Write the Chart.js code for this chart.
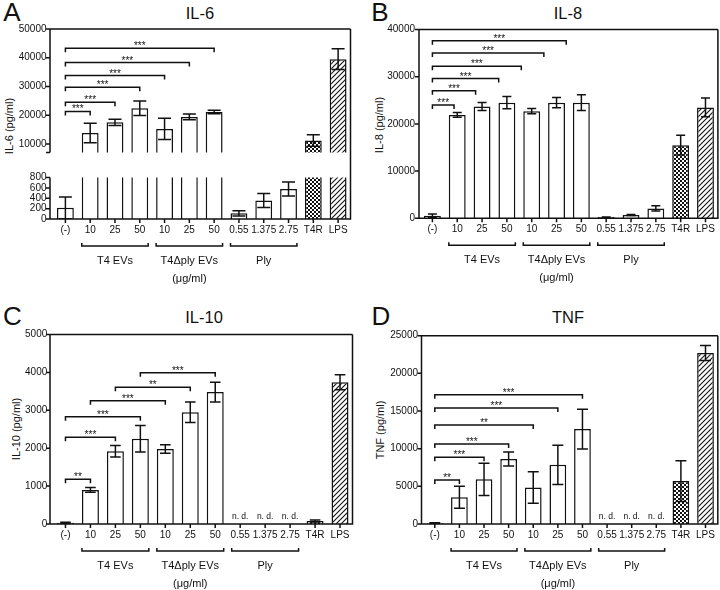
<!DOCTYPE html>
<html>
<head>
<meta charset="utf-8">
<script src="https://cdn.jsdelivr.net/npm/chart.js@4.4.1/dist/chart.umd.min.js"></script>
<style>
html, body { margin: 0; padding: 0; background: #fff; }
#fig { position: relative; width: 720px; height: 590px; overflow: hidden; font-family: "Liberation Sans", Arial, sans-serif; color: #111; }
#fig canvas { position: absolute; }
.lbl { position: absolute; line-height: 1; white-space: nowrap; transform: translate(-50%, -50%); }
.letter { font-size: 26px; }
.title { font-size: 16.5px; }
.ytitle { font-size: 11px; transform: translate(-50%, -50%) rotate(-90deg); }
</style>
</head>
<body>
<div id="fig">
  <div class="lbl letter" style="left:12px;top:12px">A</div>
  <div class="lbl letter" style="left:380px;top:12px">B</div>
  <div class="lbl letter" style="left:12.5px;top:316px">C</div>
  <div class="lbl letter" style="left:381px;top:316px">D</div>
  <div class="lbl title" style="left:200px;top:12.5px">IL-6</div>
  <div class="lbl title" style="left:568px;top:12.5px">IL-8</div>
  <div class="lbl title" style="left:204px;top:316.5px">IL-10</div>
  <div class="lbl title" style="left:568px;top:316.5px">TNF</div>
  <div class="lbl ytitle" style="left:8.5px;top:126px">IL-6 (pg/ml)</div>
  <div class="lbl ytitle" style="left:379px;top:125px">IL-8 (pg/ml)</div>
  <div class="lbl ytitle" style="left:15.5px;top:429px">IL-10 (pg/ml)</div>
  <div class="lbl ytitle" style="left:380px;top:430px">TNF (pg/ml)</div>
</div>
<script>
const categories = ['(-)', '10', '25', '50', '10', '25', '50', '0.55', '1.375', '2.75', 'T4R', 'LPS'];
const groups = [['T4 EVs', 1, 3], ['T4\u0394ply EVs', 4, 6], ['Ply', 7, 9]];
const unitLabel = '(\u03bcg/ml)';

// IL-6 (broken axis)
const il6Mean = [215, 13800, 17500, 22400, 15200, 19400, 21100, 110, 355, 580, 11200, 39500];
const il6Err = [210, 3400, 1100, 2500, 3700, 1000, 600, 50, 135, 135, 2000, 3600];
const il6Sig = [[0, 1, 21300, '***'], [0, 2, 24500, '***'], [0, 3, 29700, '***'],
                [0, 4, 33800, '***'], [0, 5, 38300, '***'], [0, 6, 43300, '***']];
const il6TicksHigh = [10000, 20000, 30000, 40000, 50000];
const il6TicksLow = [0, 200, 400, 600, 800];

// IL-8
const il8Mean = [550, 21900, 23700, 24500, 22700, 24500, 24500, 250, 700, 2100, 15500, 23500];
const il8Err = [350, 500, 850, 1300, 550, 1100, 1650, 50, 100, 550, 2100, 2000];
const il8Sig = [[0, 0.87, 24000, '***'], [0, 1.74, 27000, '***'], [0, 2.67, 29600, '***'],
                [0, 3.58, 32200, '***'], [0, 4.49, 35000, '***'], [0, 5.39, 37600, '***']];
const il8Ticks = [0, 10000, 20000, 30000, 40000];

// IL-10 (null = n. d.)
const il10Mean = [30, 900, 1920, 2250, 1980, 2950, 3480, null, null, null, 80, 3740];
const il10Err = [15, 60, 150, 350, 110, 270, 260, null, null, null, 25, 200];
const il10Sig = [[0, 1, 1180, '**'], [0, 2, 2290, '***'], [0, 3, 2830, '***'],
                 [1, 4, 3250, '***'], [2, 5, 3610, '**'], [3, 6, 3990, '***']];
const il10Ticks = [0, 1000, 2000, 3000, 4000, 5000];

// TNF (null = n. d.)
const tnfMean = [100, 3550, 5930, 8630, 4840, 7850, 12600, null, null, null, 5700, 22700];
const tnfErr = [50, 1470, 2150, 930, 2100, 2600, 2630, null, null, null, 2700, 1000];
const tnfSig = [[0, 1, 5840, '**'], [0, 2, 8850, '***'], [0, 3, 10620, '***'],
                [0, 4, 13140, '**'], [0, 5, 15400, '***'], [0, 6, 17160, '***']];
const tnfTicks = [0, 5000, 10000, 15000, 20000, 25000];

const INK = '#111';
const FONT = '"Liberation Sans", Arial, sans-serif';

function makePattern(kind) {
    const c = document.createElement('canvas');
    const g = c.getContext('2d');
    if (kind === 'check') {
        c.width = 4; c.height = 4;
        g.fillStyle = '#fff'; g.fillRect(0, 0, 4, 4);
        g.fillStyle = INK; g.fillRect(0, 0, 2, 2); g.fillRect(2, 2, 2, 2);
    } else {
        c.width = 5; c.height = 5;
        g.fillStyle = '#fff'; g.fillRect(0, 0, 5, 5);
        g.strokeStyle = INK; g.lineWidth = 1.1;
        g.beginPath();
        g.moveTo(-1, 6); g.lineTo(6, -1);
        g.moveTo(-1, 1); g.lineTo(1, -1);
        g.moveTo(4, 6); g.lineTo(6, 4);
        g.stroke();
    }
    return g.createPattern(c, 'repeat');
}
const checker = makePattern('check');
const hatch = makePattern('hatch');
const fills = categories.map((c) => (c === 'T4R' ? checker : c === 'LPS' ? hatch : '#fff'));

function decor(p) {
    return {
        id: 'decor',
        afterDatasetsDraw(chart) {
            const { ctx, chartArea: a } = chart;
            const x = chart.scales.x, y = chart.scales.y;
            const bars = chart.getDatasetMeta(0).data;
            ctx.save();
            ctx.strokeStyle = INK;
            ctx.fillStyle = INK;
            ctx.lineWidth = 1.5;

            // error bars
            ctx.save();
            ctx.beginPath();
            ctx.rect(a.left, a.top, a.right - a.left, a.bottom - a.top);
            ctx.clip();
            p.mean.forEach((m, i) => {
                if (m == null) return;
                const e = p.err[i], cx = bars[i].x;
                const yt = y.getPixelForValue(m + e);
                const yb = y.getPixelForValue(Math.max(m - e, 0));
                ctx.beginPath();
                ctx.moveTo(cx, yt); ctx.lineTo(cx, yb);
                ctx.moveTo(cx - p.cap, yt); ctx.lineTo(cx + p.cap, yt);
                ctx.moveTo(cx - p.cap, yb); ctx.lineTo(cx + p.cap, yb);
                ctx.stroke();
            });
            ctx.restore();

            // significance brackets
            ctx.font = '10px ' + FONT;
            ctx.textAlign = 'center';
            ctx.textBaseline = 'alphabetic';
            p.sig.forEach(([i, j, level, label]) => {
                if (level < y.min || level > y.max) return;
                const x1 = x.getPixelForValue(i), x2 = x.getPixelForValue(j);
                const yy = y.getPixelForValue(level);
                ctx.beginPath();
                ctx.moveTo(x1, yy + 4); ctx.lineTo(x1, yy); ctx.lineTo(x2, yy); ctx.lineTo(x2, yy + 4);
                ctx.stroke();
                ctx.fillText(label, (x1 + x2) / 2, yy + 1);
            });

            // n. d.
            ctx.font = '8.5px ' + FONT;
            p.mean.forEach((m, i) => {
                if (m == null) ctx.fillText('n. d.', x.getPixelForValue(i), a.bottom - 5.5);
            });

            // frame, axes and tick marks
            const ax = a.left - p.gap;
            ctx.beginPath();
            ctx.moveTo(ax, a.top); ctx.lineTo(ax, a.bottom);
            y.ticks.forEach((t) => {
                const py = y.getPixelForValue(t.value);
                ctx.moveTo(ax - 4, py); ctx.lineTo(ax, py);
            });
            if (p.breakTick) { ctx.moveTo(ax - 4, a.bottom); ctx.lineTo(ax, a.bottom); }
            if (p.topBorder) { ctx.moveTo(ax - 0.75, a.top); ctx.lineTo(a.right, a.top); }
            ctx.moveTo(a.right, p.topBorder ? a.top : 0);
            ctx.lineTo(a.right, p.hasX ? a.bottom : chart.height);
            if (p.hasX) {
                ctx.moveTo(ax - 0.75, a.bottom); ctx.lineTo(a.right + 0.75, a.bottom);
                bars.forEach((b) => { ctx.moveTo(b.x, a.bottom); ctx.lineTo(b.x, a.bottom + 4); });
            }
            ctx.stroke();

            // group brackets under the x axis
            if (p.hasX) {
                const yb = a.bottom + 27;
                ctx.font = '11px ' + FONT;
                groups.forEach(([label, from, to]) => {
                    const l = bars[from].x - bars[from].width / 2;
                    const r = bars[to].x + bars[to].width / 2;
                    ctx.beginPath();
                    ctx.moveTo(l, yb - 3); ctx.lineTo(l, yb); ctx.lineTo(r, yb); ctx.lineTo(r, yb - 3);
                    ctx.stroke();
                    ctx.fillText(label, (l + r) / 2, a.bottom + 45);
                });
                const mid = groups[1];
                ctx.fillText(unitLabel, (bars[mid[1]].x + bars[mid[2]].x) / 2, a.bottom + 63);
            }
            ctx.restore();
        },
    };
}

const fig = document.getElementById('fig');

function buildChart(p) {
    const cv = document.createElement('canvas');
    cv.width = p.w;
    cv.height = p.h;
    cv.style.left = p.left + 'px';
    cv.style.top = p.top + 'px';
    fig.appendChild(cv);
    return new Chart(cv, {
        type: 'bar',
        data: {
            labels: categories,
            datasets: [
                {
                    data: p.mean,
                    backgroundColor: fills,
                    borderColor: INK,
                    borderWidth: 1.5,
                    barPercentage: 0.68,
                    categoryPercentage: 1,
                    clip: 0,
                },
            ],
        },
        options: {
            responsive: false,
            animation: false,
            events: [],
            layout: { padding: p.pad },
            plugins: {
                legend: { display: false },
                tooltip: { enabled: false },
            },
            scales: {
                x: {
                    display: p.hasX,
                    grid: { display: false, drawTicks: false },
                    border: { display: false },
                    ticks: {
                        color: INK,
                        font: { family: FONT, size: 10 },
                        padding: 5,
                        autoSkip: false,
                        maxRotation: 0,
                        minRotation: 0,
                    },
                    afterFit: (s) => { s.height = p.xh; },
                },
                y: {
                    min: p.min,
                    max: p.max,
                    grid: { display: false, drawTicks: false },
                    border: { display: false },
                    afterBuildTicks: (s) => { s.ticks = p.ticks.map((v) => ({ value: v })); },
                    ticks: {
                        color: INK,
                        font: { family: FONT, size: 10 },
                        padding: p.tpad,
                        autoSkip: false,
                        callback: (v) => String(v),
                    },
                    afterFit: (s) => { s.width = p.yw; },
                },
            },
        },
        plugins: [decor(p)],
    });
}

const panels = [
    { left: 0, top: 0, w: 360, h: 165, mean: il6Mean, err: il6Err, sig: il6Sig, ticks: il6TicksHigh,
      min: 7000, max: 50000, yw: 53, xh: 0, hasX: false, pad: { top: 29, right: 9.5, bottom: 6, left: 0 },
      gap: 3, tpad: 6.5, cap: 6.5, topBorder: true, breakTick: true },
    { left: 0, top: 165, w: 360, h: 125, mean: il6Mean, err: il6Err, sig: [], ticks: il6TicksLow,
      min: 0, max: 800, yw: 53, xh: 71, hasX: true, pad: { top: 4, right: 9.5, bottom: 0, left: 0 },
      gap: 3, tpad: 6.5, cap: 6.5, topBorder: false },
    { left: 360, top: 0, w: 360, h: 290, mean: il8Mean, err: il8Err, sig: il8Sig, ticks: il8Ticks,
      min: 0, max: 40000, yw: 60, xh: 71.7, hasX: true, pad: { top: 29.5, right: 1.6, bottom: 0, left: 0 },
      gap: 1, tpad: 5, cap: 4.5, topBorder: true },
    { left: 0, top: 300, w: 360, h: 290, mean: il10Mean, err: il10Err, sig: il10Sig, ticks: il10Ticks,
      min: 0, max: 5000, yw: 53, xh: 66, hasX: true, pad: { top: 34.5, right: 7.5, bottom: 0, left: 0 },
      gap: 3, tpad: 5.7, cap: 5.3, topBorder: true },
    { left: 360, top: 300, w: 360, h: 290, mean: tnfMean, err: tnfErr, sig: tnfSig, ticks: tnfTicks,
      min: 0, max: 25000, yw: 62.5, xh: 66, hasX: true, pad: { top: 35.7, right: 1, bottom: 0, left: 0 },
      gap: 1, tpad: 4.5, cap: 5.5, topBorder: true },
];

panels.forEach(buildChart);
</script>
</body>
</html>
